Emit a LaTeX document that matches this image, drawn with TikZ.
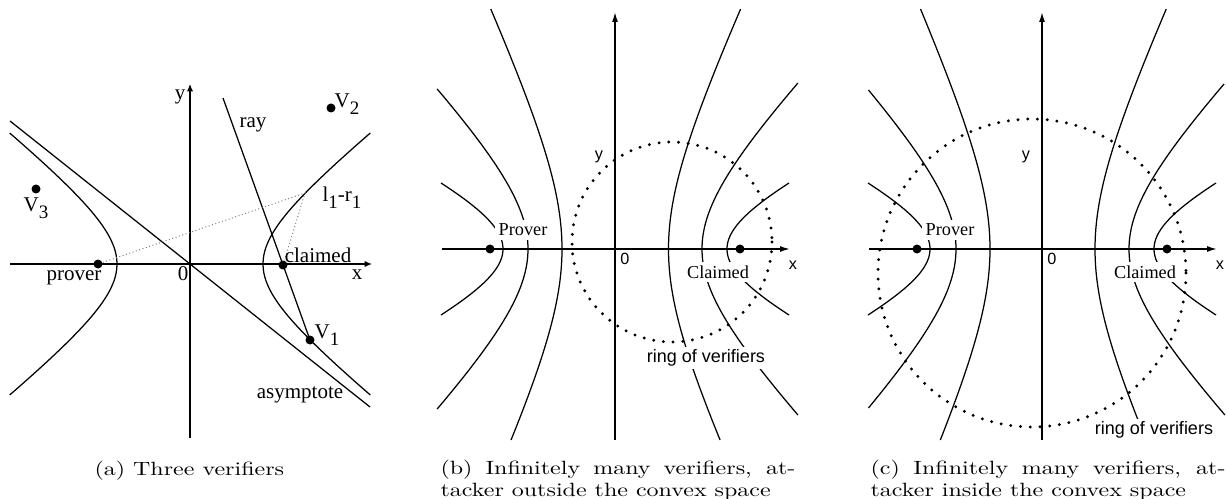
\documentclass[tikz,border=0pt]{standalone}
\usepackage{fontspec}
\usepackage{graphicx}
\newfontfamily\tms{Liberation Serif}
\newfontfamily\hv{Liberation Sans}
\usetikzlibrary{arrows.meta}
\newcommand\lowsub[1]{\raisebox{-0.32em}{\fontsize{7.6}{8}\selectfont #1}}
% sign, a, ymin, ymax (local, y down); foci at +-125
\newcommand\hypb[4]{\draw[curve] plot[domain=#3:#4,samples=60,smooth,variable=\t]
  ({#1*#2*sqrt(1+(\t/sqrt(15625-#2*#2))^2)},{\t});}
\newcommand\capbox[1]{\scalebox{1}[0.8]{\parbox[t]{142pt}{\fontsize{9.6}{11.1}\selectfont #1}}}
\begin{document}
\begin{tikzpicture}[x=0.4pt,y=-0.4pt,
  curve/.style={line width=0.5pt},
  axisA/.style={line width=0.5pt,-{Latex[length=3pt,width=2.6pt]}},
  axisB/.style={line width=0.6pt,-{Latex[length=4pt,width=2.4pt]}},
  dotpt/.style={circle,fill=black,inner sep=0pt,minimum size=3.6pt},
  tlab/.style={font=\tms\fontsize{8.4}{10}\selectfont,inner sep=0pt},
  slab/.style={font=\hv\fontsize{6.5}{8}\selectfont,inner sep=0pt},
  wlab/.style={font=\tms\fontsize{7.3}{9}\selectfont,fill=white,inner sep=1.5pt},
  rlab/.style={font=\hv\fontsize{7.2}{9}\selectfont,fill=white,inner sep=1pt},
  ringdots/.style={line width=1.3pt,line cap=round,dash pattern=on 0pt off 3.9pt},
  faint/.style={gray,densely dotted,line width=0.4pt},
  captext/.style={anchor=base west,inner sep=0pt}]
\useasboundingbox (0,0) rectangle (1227,499);

% ---------------- panel (a) ----------------
\coordinate (xa0) at (10,264);
\coordinate (xa1) at (372,264);
\coordinate (ya0) at (190,438);
\coordinate (ya1) at (190,84);
\draw[axisA] (xa0) -- (xa1);
\draw[axisA] (ya0) -- (ya1);
\draw[curve] plot[domain=-131:131,samples=61,smooth,variable=\t] ({190+73*sqrt(1+(\t/58)^2)},{264+\t});
\draw[curve] plot[domain=-131:131,samples=61,smooth,variable=\t] ({190-73*sqrt(1+(\t/58)^2)},{264+\t});
\coordinate (as0) at (10,121);
\coordinate (as1) at (370,407);
\draw[curve] (as0) -- (as1);
\node[dotpt] (prover) at (98,264) {};
\node[dotpt] (claimed) at (283,265) {};
\node[dotpt] (V1) at (310,340) {};
\node[dotpt] (V2) at (331,108) {};
\node[dotpt] (V3) at (36,189) {};
\coordinate (ray0) at (223,98);
\draw[curve] (ray0) -- (V1.center);
\coordinate (P) at (305,193);
\draw[faint] (prover) -- (P) -- (claimed);
\node[tlab] (ly) at (180,97) {y};
\node[tlab] (lray) at (253,125) {ray};
\node[tlab] (lV2) at (347,104) {V\lowsub{2}};
\node[tlab] (lV3) at (36,208) {V\lowsub{3}};
\node[tlab] (llr) at (342,198) {l\lowsub{1}-r\lowsub{1}};
\node[tlab] (lcl) at (318,255) {claimed};
\node[tlab] (lx) at (357,275) {x};
\node[tlab] (l0) at (183,274) {0};
\node[tlab] (lpr) at (74,278) {prover};
\node[tlab] (lV1) at (327,335) {V\lowsub{1}};
\node[tlab] (las) at (300,395) {asymptote};

% ---------------- panel (b) ----------------
\coordinate (bx0) at (442,249);
\coordinate (bx1) at (790,249);
\coordinate (by0) at (615,440);
\coordinate (by1) at (615,12);
\begin{scope}[shift={(615,249)}]
  \hypb{-1}{112}{-66}{66}
  \hypb{-1}{87}{-160}{160}
  \hypb{-1}{53}{-240}{191}
  \hypb{1}{53.5}{-240}{191}
  \hypb{1}{87}{-166}{166}
  \hypb{1}{112}{-66}{66}
\end{scope}
\draw[axisB] (bx0) -- (bx1);
\draw[axisB] (by0) -- (by1);
\draw[ringdots] (672,242) circle[radius=100];
\node[dotpt] (bprover) at (490,249) {};
\node[dotpt] (bclaimed) at (740,249) {};
\node[wlab] (bprl) at (523,230) {Prover};
\node[wlab] (bcll) at (718,272) {Claimed};
\node[rlab] (bring) at (706,358) {ring of verifiers};
\node[slab] (by) at (599,157) {y};
\node[slab] (b0) at (625,259) {0};
\node[slab] (bx) at (793,265) {x};

% ---------------- panel (c) ----------------
\coordinate (cx0) at (869,249);
\coordinate (cx1) at (1217,249);
\coordinate (cy0) at (1042,440);
\coordinate (cy1) at (1042,12);
\begin{scope}[shift={(1042,249)}]
  \hypb{-1}{112}{-66}{66}
  \hypb{-1}{86}{-159}{159}
  \hypb{-1}{52}{-240}{191}
  \hypb{1}{53}{-240}{191}
  \hypb{1}{87}{-165}{166}
  \hypb{1}{112}{-66}{66}
\end{scope}
\draw[axisB] (cx0) -- (cx1);
\draw[axisB] (cy0) -- (cy1);
\draw[ringdots] (1032,273) circle[radius=154];
\node[dotpt] (cprover) at (917,249) {};
\node[dotpt] (cclaimed) at (1167,249) {};
\node[wlab] (cprl) at (950,230) {Prover};
\node[wlab] (ccll) at (1145,272) {Claimed};
\node[rlab] (cring) at (1154,430) {ring of verifiers};
\node[slab] (cy) at (1026,157) {y};
\node[slab] (c0) at (1052,259) {0};
\node[slab] (cx) at (1220,265) {x};

% ---------------- captions ----------------
\node[captext] (capa) at (94,475) {\scalebox{1}[0.8]{\fontsize{9.6}{11.1}\selectfont (a) Three verifiers}};
\node[captext] (capb) at (440,474) {\capbox{(b) Infinitely many verifiers, at-\linebreak tacker outside the convex space}};
\node[captext] (capc) at (870,474) {\capbox{(c) Infinitely many verifiers, at-\linebreak tacker inside the convex space}};
\end{tikzpicture}
\end{document}
